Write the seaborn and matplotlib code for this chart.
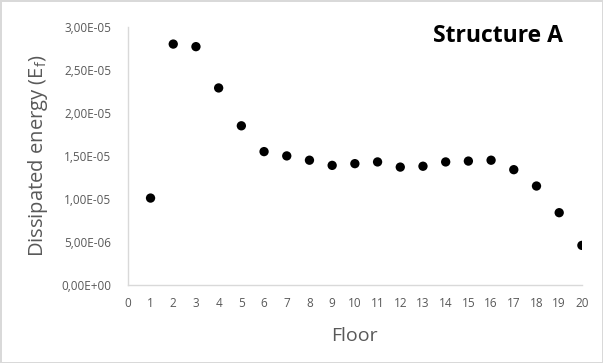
import numpy as np
import pandas as pd
import seaborn as sb
from matplotlib import pyplot as plt
from matplotlib.ticker import FuncFormatter

floors = list(range(1, 21))
energy = [1.01e-05, 2.80e-05, 2.77e-05, 2.29e-05, 1.85e-05, 1.55e-05, 1.50e-05,
          1.45e-05, 1.39e-05, 1.41e-05, 1.43e-05, 1.37e-05, 1.38e-05, 1.43e-05,
          1.44e-05, 1.45e-05, 1.34e-05, 1.15e-05, 0.84e-05, 0.46e-05]

df = pd.DataFrame({'floor': floors, 'energy': energy})

sb.set_style("white")
plt.rcParams['font.family'] = ['Open Sans', 'DejaVu Sans']

fig = plt.figure(figsize=(6.03, 3.63), dpi=100)
fig.patch.set_edgecolor('#d9d9d9')
fig.patch.set_linewidth(2)
ax = fig.add_axes([0.212, 0.215, 0.753, 0.711])

sb.scatterplot(data=df, x='floor', y='energy', color='black', s=45,
               edgecolor='none', ax=ax)

ax.set_xlim(0, 20)
ax.set_ylim(0, 3e-05)
ax.set_xticks(range(0, 21))
ax.set_yticks(np.arange(0, 3.01e-05, 0.5e-05))


def sci_comma(v, pos):
    s = "%.2E" % v
    mant, exp = s.split('E')
    sign = exp[0]
    return mant.replace('.', ',') + 'E' + sign + exp[1:].zfill(2)


ax.yaxis.set_major_formatter(FuncFormatter(sci_comma))
ax.tick_params(axis='both', colors='#595959', labelsize=8.5, length=0)
ax.tick_params(axis='x', pad=9)
ax.tick_params(axis='y', pad=12)

for side in ['top', 'right']:
    ax.spines[side].set_visible(False)
for side in ['left', 'bottom']:
    ax.spines[side].set_color('#d9d9d9')
    ax.spines[side].set_linewidth(1)

ax.set_xlabel("Floor", fontsize=14, color='#595959', labelpad=12)
ax.set_ylabel(r"Dissipated energy (E$_\mathregular{f}$)", fontsize=14.5,
              color='#595959', labelpad=8)

ax.text(0.958, 1.01, "Structure A", transform=ax.transAxes, ha='right', va='top',
        fontsize=16.5, fontweight='bold', color='black')

plt.savefig("out.png", dpi=100)
